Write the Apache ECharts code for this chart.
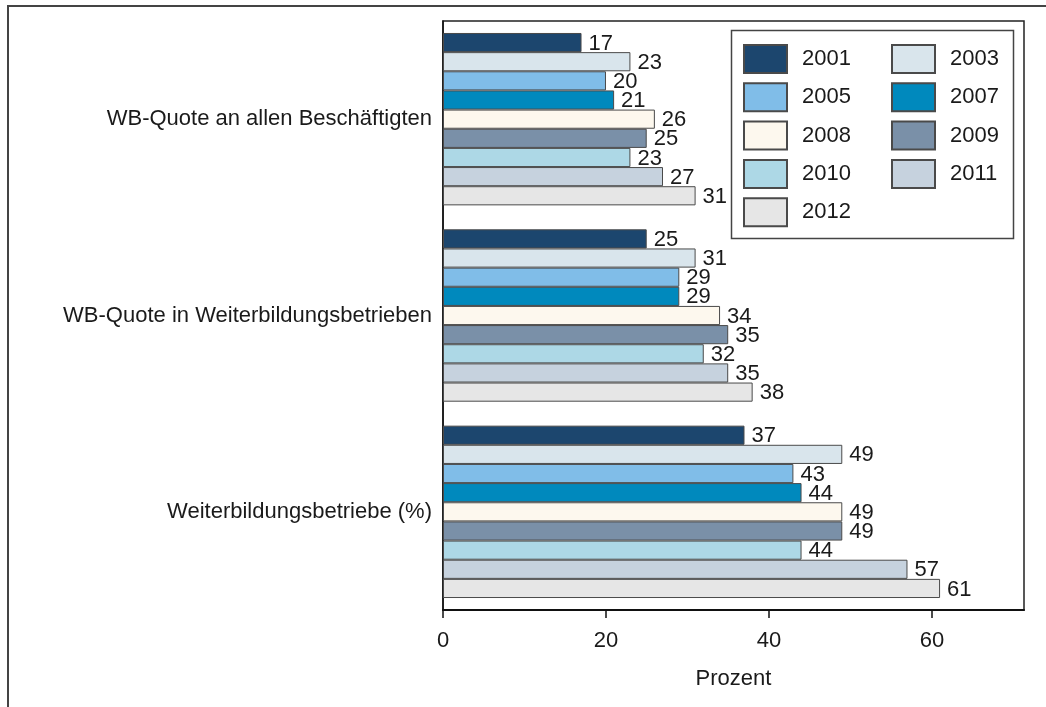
<!DOCTYPE html>
<html>
<head>
<meta charset="utf-8">
<title>Weiterbildung</title>
<script src="https://cdn.jsdelivr.net/npm/echarts@6/dist/echarts.min.js"></script>
<style>
  html, body { margin: 0; padding: 0; background: #fff; }
  #chart { width: 1046px; height: 707px; }
</style>
</head>
<body>
<div id="chart"></div>
<script>
// categories (top to bottom)
var categories = ['WB-Quote an allen Beschäftigten', 'WB-Quote in Weiterbildungsbetrieben', 'Weiterbildungsbetriebe (%)']
var years = ['2001', '2003', '2005', '2007', '2008', '2009', '2010', '2011', '2012']

// values per year, one entry per category
var v2001 = [17, 25, 37]
var v2003 = [23, 31, 49]
var v2005 = [20, 29, 43]
var v2007 = [21, 29, 44]
var v2008 = [26, 34, 49]
var v2009 = [25, 35, 49]
var v2010 = [23, 32, 44]
var v2011 = [27, 35, 57]
var v2012 = [31, 38, 61]

var xTicks = [0, 20, 40, 60]

var values = [v2001, v2003, v2005, v2007, v2008, v2009, v2010, v2011, v2012]
var colors = ['#1c466e', '#d9e5ec', '#80bde8', '#0089bd', '#fdf8ee', '#7a90a8', '#add8e6', '#c6d2de', '#e6e6e6']

var font = 'Liberation Sans, Arial, sans-serif'
var chart = echarts.init(document.getElementById('chart'))

var series = years.map(function (y, i) {
  return {
    name: y,
    type: 'bar',
    data: values[i],
    barGap: '0%',
    barCategoryGap: '12.2%',
    itemStyle: {
      color: colors[i],
      borderColor: '#4a4a4a',
      borderWidth: 1
    },
    label: {
      show: true,
      position: 'right',
      distance: 7,
      offset: [0, 1],
      color: '#1a1a1a',
      fontFamily: font,
      fontSize: 22
    }
  }
})

var legendCommon = {
  orient: 'vertical',
  padding: 0,
  itemWidth: 43,
  itemHeight: 28,
  itemGap: 8.3,
  icon: 'rect',
  textStyle: {
    fontFamily: font,
    fontSize: 22,
    lineHeight: 24,
    color: '#1a1a1a',
    padding: [0, 0, 0, 10]
  }
}

chart.setOption({
  animation: false,
  grid: {
    left: 443,
    right: 22,
    top: 21,
    bottom: 97,
    show: true,
    borderColor: '#222',
    borderWidth: 1.5
  },
  legend: [
    Object.assign({ left: 743, top: 44, data: ['2001', '2005', '2008', '2010', '2012'] }, legendCommon),
    Object.assign({ left: 891, top: 44, data: ['2003', '2007', '2009', '2011'] }, legendCommon)
  ],
  xAxis: {
    type: 'value',
    min: 0,
    max: 71.3,
    interval: 20,
    name: 'Prozent',
    nameLocation: 'middle',
    nameGap: 58,
    nameTextStyle: { fontFamily: font, fontSize: 22, color: '#1a1a1a' },
    axisLine: { show: true, lineStyle: { color: '#111', width: 2 } },
    axisTick: { show: true, length: 8, lineStyle: { color: '#111', width: 1.5 } },
    axisLabel: {
      fontFamily: font,
      fontSize: 22,
      color: '#1a1a1a',
      margin: 20,
      showMaxLabel: false,
      formatter: function (v) { return xTicks.indexOf(v) >= 0 ? v : '' }
    },
    splitLine: { show: false }
  },
  yAxis: {
    type: 'category',
    inverse: true,
    data: categories,
    axisLine: { show: true, lineStyle: { color: '#111', width: 1.5 } },
    axisTick: { show: false },
    axisLabel: { fontFamily: font, fontSize: 22, color: '#1a1a1a', margin: 11 }
  },
  graphic: [
    {
      type: 'rect',
      shape: { x: 8, y: 6, width: 1100, height: 800 },
      style: { fill: 'none', stroke: '#444', lineWidth: 2 },
      silent: true
    },
    {
      type: 'rect',
      shape: { x: 731.5, y: 30.5, width: 282, height: 208 },
      style: { fill: 'none', stroke: '#444', lineWidth: 1.5 },
      silent: true
    }
  ],
  series: series
})
</script>
</body>
</html>
